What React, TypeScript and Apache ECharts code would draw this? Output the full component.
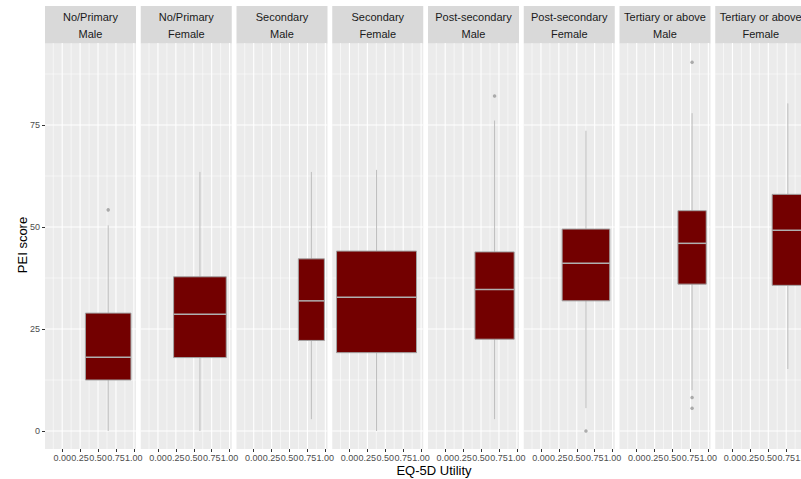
import React, { useEffect, useRef } from "react";
import * as echarts from "echarts";

const educationLevels = [
  "No/Primary", "No/Primary", "Secondary", "Secondary",
  "Post-secondary", "Post-secondary", "Tertiary or above", "Tertiary or above",
];
const sexes = ["Male", "Female", "Male", "Female", "Male", "Female", "Male", "Female"];

// box centre position (mean EQ-5D utility) and box width (varwidth) per panel
const xCenters = [0.642, 0.586, 0.805, 0.378, 0.689, 0.628, 0.773, 0.773];
const boxWidths = [0.636, 0.735, 0.363, 1.116, 0.548, 0.665, 0.395, 0.438];

const whiskerLow = [0, 0, 2.9, 0, 2.9, 5.6, 10.0, 15.2];
const q1 = [12.5, 18.0, 22.2, 19.2, 22.5, 31.9, 36.0, 35.7];
const medians = [18.1, 28.6, 31.9, 32.8, 34.7, 41.1, 46.0, 49.2];
const q3 = [28.9, 37.8, 42.2, 44.1, 43.9, 49.5, 54.0, 58.0];
const whiskerHigh = [50.4, 63.5, 63.5, 64.0, 76.1, 73.6, 77.9, 80.3];
const outliers = [[54.2], [], [], [], [82.1], [0], [90.4, 8.2, 5.6], []];

const xTickValues = [0, 0.25, 0.5, 0.75, 1];
const xMinorGrid = [-0.125, 0.125, 0.375, 0.625, 0.875];
const yTickValues = [0, 25, 50, 75];
const yMinorGrid = [12.5, 37.5, 62.5, 87.5];

const FONT = '"Liberation Sans", Arial, sans-serif';

export default function App() {
  const ref = useRef<HTMLDivElement>(null);

  useEffect(() => {
    document.body.style.margin = "0";
    const chart = echarts.init(ref.current!, null, { renderer: "svg" });

    const left0 = 45;
    const step = 95.75;
    const pw = 91;
    const top = 43;
    const ph = 406;

    const gridLineData: number[][] = [
      ...xTickValues.map((v) => [1, v, 1]),
      ...xMinorGrid.map((v) => [1, v, 0]),
      ...yTickValues.map((v) => [0, v, 1]),
      ...yMinorGrid.map((v) => [0, v, 0]),
    ];

    const grids: any[] = [];
    const xAxes: any[] = [];
    const yAxes: any[] = [];
    const series: any[] = [];
    const graphics: any[] = [];

    for (let i = 0; i < educationLevels.length; i++) {
      const left = left0 + i * step;
      grids.push({
        left, top, width: pw, height: ph,
        show: true, backgroundColor: "#ebebeb", borderWidth: 0,
        containLabel: false, outerBoundsMode: "none",
      });
      xAxes.push({
        type: "value", gridIndex: i, min: -0.24, max: 1.03, position: "bottom",
        axisLine: { show: false, onZero: false },
        axisTick: { show: true, customValues: xTickValues, length: 3, lineStyle: { color: "#333333", width: 1 } },
        axisLabel: {
          customValues: xTickValues,
          formatter: (v: number) => v.toFixed(2),
          fontSize: 9, color: "#4d4d4d", margin: 4, fontFamily: FONT,
          showMinLabel: true, showMaxLabel: true, hideOverlap: false,
        },
        splitLine: { show: false },
      });
      yAxes.push({
        type: "value", gridIndex: i, min: -4.41, max: 95.1, position: "left",
        axisLine: { show: false, onZero: false },
        axisTick: { show: i === 0, customValues: yTickValues, length: 3, lineStyle: { color: "#333333", width: 1 } },
        axisLabel: {
          show: i === 0, customValues: yTickValues,
          fontSize: 9, color: "#4d4d4d", margin: 5, fontFamily: FONT,
        },
        splitLine: { show: false },
      });

      series.push({
        type: "custom", xAxisIndex: i, yAxisIndex: i, z: 1, silent: true,
        data: gridLineData,
        renderItem: (params: any, api: any) => {
          const cs = params.coordSys;
          const kind = api.value(0);
          const v = api.value(1);
          const major = api.value(2) === 1;
          const style = { stroke: "#ffffff", lineWidth: major ? 1.1 : 0.55 };
          if (kind === 0) {
            const y = api.coord([0, v])[1];
            return { type: "line", shape: { x1: cs.x, y1: y, x2: cs.x + cs.width, y2: y }, style };
          }
          const x = api.coord([v, 0])[0];
          return { type: "line", shape: { x1: x, y1: cs.y, x2: x, y2: cs.y + cs.height }, style };
        },
      });

      series.push({
        type: "custom", xAxisIndex: i, yAxisIndex: i, z: 2,
        encode: { x: 0, y: [2, 3, 4, 5, 6] },
        data: [[xCenters[i], boxWidths[i], whiskerLow[i], q1[i], medians[i], q3[i], whiskerHigh[i]]],
        renderItem: (params: any, api: any) => {
          const xc = api.value(0);
          const w = api.value(1);
          const lo = api.coord([xc, api.value(2)]);
          const hi = api.coord([xc, api.value(6)]);
          const bl = api.coord([xc - w / 2, api.value(3)]);
          const tr = api.coord([xc + w / 2, api.value(5)]);
          const md = api.coord([xc, api.value(4)]);
          return {
            type: "group",
            children: [
              { type: "line", shape: { x1: lo[0], y1: lo[1], x2: hi[0], y2: hi[1] }, style: { stroke: "#bdbdbd", lineWidth: 1 } },
              {
                type: "rect",
                shape: { x: bl[0], y: tr[1], width: tr[0] - bl[0], height: bl[1] - tr[1] },
                style: { fill: "#730000", stroke: "#a3a3a3", lineWidth: 1 },
              },
              { type: "line", shape: { x1: bl[0], y1: md[1], x2: tr[0], y2: md[1] }, style: { stroke: "#b0b0b0", lineWidth: 1.5 } },
            ],
          };
        },
      });

      series.push({
        type: "scatter", xAxisIndex: i, yAxisIndex: i, z: 3, silent: true,
        symbolSize: 3.5,
        itemStyle: { color: "#9a9a9a" },
        data: outliers[i].map((y) => [xCenters[i], y]),
      });

      graphics.push({
        type: "rect", shape: { x: left, y: 6, width: pw, height: 37.3 },
        style: { fill: "#d9d9d9" }, silent: true,
      });
      graphics.push({
        type: "text", x: left + pw / 2, y: 25.5, silent: true,
        style: {
          text: `${educationLevels[i]}\n${sexes[i]}`,
          align: "center", verticalAlign: "middle",
          fontSize: 11, lineHeight: 17.7, fill: "#1a1a1a", fontFamily: FONT,
        },
      });
    }

    graphics.push({
      type: "text", x: 434, y: 470, silent: true,
      style: { text: "EQ-5D Utility", align: "center", verticalAlign: "middle", fontSize: 13, fill: "#000000", fontFamily: FONT },
    });
    graphics.push({
      type: "text", x: 22, y: 245, rotation: Math.PI / 2, silent: true,
      style: { text: "PEI score", align: "center", verticalAlign: "middle", fontSize: 13, fill: "#000000", fontFamily: FONT },
    });

    chart.setOption({
      animation: false,
      backgroundColor: "#ffffff",
      grid: grids,
      xAxis: xAxes,
      yAxis: yAxes,
      series,
      graphic: graphics,
    });

    return () => chart.dispose();
  }, []);

  return <div ref={ref} style={{ width: 801, height: 479 }} />;
}
